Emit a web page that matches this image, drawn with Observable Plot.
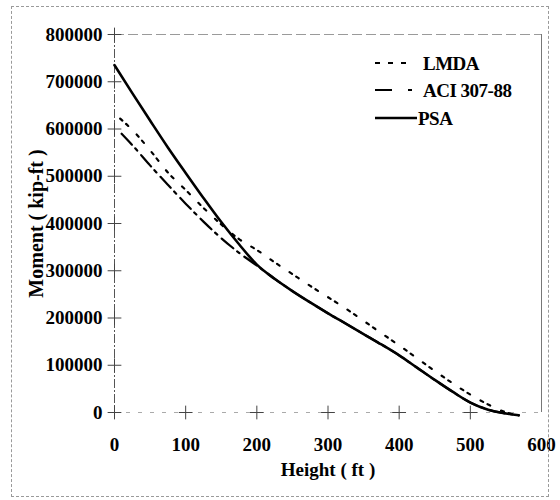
<!DOCTYPE html>
<html>
<head>
<meta charset="utf-8">
<script src="https://cdn.jsdelivr.net/npm/d3@7"></script>
<script src="https://cdn.jsdelivr.net/npm/@observablehq/plot@0.6"></script>
<style>
  body { margin: 0; background: #fff; }
  #wrap { position: relative; width: 560px; height: 500px; overflow: hidden; }
  #frame { position: absolute; left: 11px; top: 6px; width: 538px; height: 491px; border: 1px dashed #9a9a9a; box-sizing: border-box; pointer-events: none; }
  #legend { position: absolute; left: 0; top: 0; pointer-events: none; }
</style>
</head>
<body>
<div id="wrap"><div id="chart"></div><div id="frame"></div><svg id="legend" width="560" height="500"></svg></div>
<script>
// ---- data ----
const seriesNames = ["LMDA", "ACI 307-88", "PSA"];

const lmdaHeight = [8, 25, 50, 75, 100, 125, 150, 175, 200, 225, 250, 275, 300, 325, 350, 375, 400, 425, 450, 475, 500, 525, 545, 560];
const lmdaMoment = [622000, 598000, 555000, 508000, 471000, 433000, 398000, 367000, 344000, 318000, 293000, 268000, 244000, 220000, 194000, 168000, 142000, 115000, 88000, 62000, 38000, 17000, 3000, -4000];

const aciHeight = [10, 25, 50, 75, 100, 125, 150, 175, 200, 225, 250, 275, 300, 325, 350, 375, 400, 425, 450, 475, 500, 525, 550, 568];
const aciMoment = [590000, 566000, 523000, 482000, 442000, 404000, 369000, 338000, 311000, 283000, 257000, 233000, 210000, 188000, 166000, 144000, 121000, 95000, 69000, 44000, 21000, 6000, -2000, -6000];

const psaHeight = [0, 25, 50, 75, 100, 125, 150, 175, 200, 225, 250, 275, 300, 325, 350, 375, 400, 425, 450, 475, 500, 525, 550, 568];
const psaMoment = [735000, 676000, 618000, 561000, 507000, 454000, 403000, 356000, 313000, 283000, 257000, 233000, 210000, 188000, 166000, 144000, 121000, 95000, 69000, 44000, 21000, 6000, -2000, -6000];

const xTicks = [0, 100, 200, 300, 400, 500, 600];
const yTicks = [0, 100000, 200000, 300000, 400000, 500000, 600000, 700000, 800000];

// ---- build table ----
const rows = [];
lmdaHeight.forEach((h, i) => rows.push({series: seriesNames[0], h, m: lmdaMoment[i]}));
aciHeight.forEach((h, i) => rows.push({series: seriesNames[1], h, m: aciMoment[i]}));
psaHeight.forEach((h, i) => rows.push({series: seriesNames[2], h, m: psaMoment[i]}));

const styles = {
  "LMDA": {strokeWidth: 2.2, dash: "3,5,3,12", legendDash: "5,8"},
  "ACI 307-88": {strokeWidth: 2.2, dash: "15,5,3,6", legendDash: "17,16,4,20"},
  "PSA": {strokeWidth: 2.6, dash: null, legendDash: null}
};

const font = "'Liberation Serif', 'Times New Roman', serif";

const chart = Plot.plot({
  width: 560,
  height: 500,
  marginLeft: 114,
  marginRight: 19,
  marginTop: 34,
  marginBottom: 88,
  style: {fontFamily: font, fontWeight: "bold", fontSize: "19px", background: "transparent", color: "#000"},
  x: {domain: [0, 600]},
  y: {domain: [0, 800000]},
  marks: [
    Plot.ruleY([800000], {stroke: "#9a9a9a", strokeDasharray: "10,4"}),
    Plot.ruleX([600], {stroke: "#777"}),
    Plot.ruleX([0], {stroke: "#555", strokeDasharray: "9,2,2,2"}),
    Plot.ruleY([0], {stroke: "#aaa", strokeDasharray: "4,8"}),
    Plot.dot(yTicks, {x: 0, y: d => d, symbol: "plus", r: 4.5, stroke: "#444", strokeWidth: 1}),
    Plot.dot(xTicks.slice(1, -1), {x: d => d, y: 0, symbol: "plus", r: 4.5, stroke: "#444", strokeWidth: 1}),
    Plot.axisX(xTicks, {tickSize: 0, tickPadding: 25, label: null, fontSize: 19, fontWeight: "bold"}),
    Plot.axisY(yTicks, {tickSize: 0, tickPadding: 12, label: null, fontSize: 19, fontWeight: "bold", tickFormat: d => String(d)}),
    ...seriesNames.map(name => Plot.line(rows.filter(r => r.series === name), {
      x: "h", y: "m", stroke: "#000",
      strokeWidth: styles[name].strokeWidth,
      strokeDasharray: styles[name].dash,
      curve: "monotone-x"
    })),
    Plot.text(["Moment ( kip-ft )"], {frameAnchor: "left", dx: -78, rotate: -90, textAnchor: "middle", lineAnchor: "middle", fontSize: 20, fontWeight: "bold"}),
    Plot.text(["Height ( ft )"], {frameAnchor: "bottom", dy: 57, textAnchor: "middle", lineAnchor: "middle", fontSize: 19, fontWeight: "bold"})
  ]
});
document.getElementById("chart").appendChild(chart);

// ---- legend ----
const leg = d3.select("#legend");
const rowY = [63, 90, 118];
const textX = [423, 423, 418];
seriesNames.forEach((name, i) => {
  const s = styles[name];
  leg.append("line")
    .attr("x1", 375).attr("x2", name === "PSA" ? 417 : 413)
    .attr("y1", rowY[i]).attr("y2", rowY[i])
    .attr("stroke", "#000").attr("stroke-width", s.strokeWidth)
    .attr("stroke-dasharray", s.legendDash);
  leg.append("text")
    .attr("x", textX[i]).attr("y", rowY[i]).attr("dy", "0.35em")
    .attr("font-family", font).attr("font-weight", "bold").attr("font-size", 19)
    .attr("letter-spacing", "-0.5")
    .text(name);
});
</script>
</body>
</html>
